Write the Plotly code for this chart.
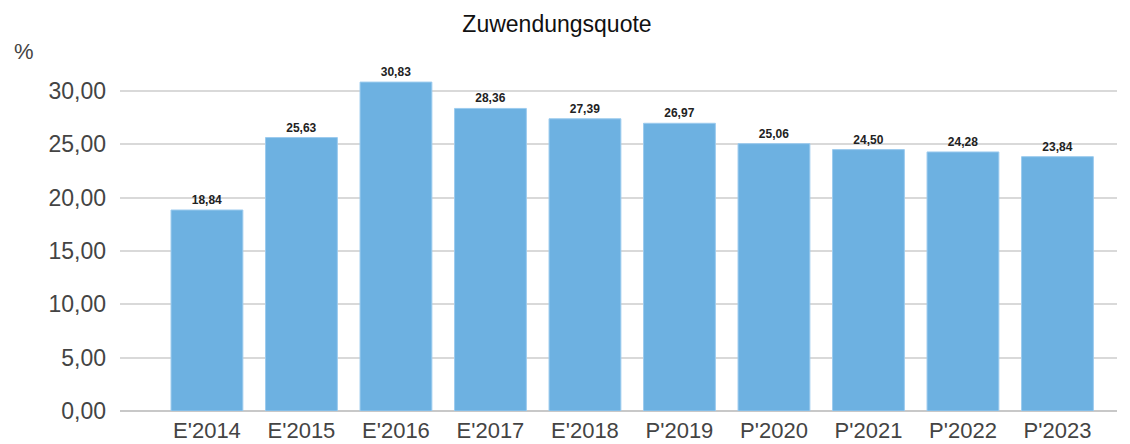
import plotly.graph_objects as go

categories = ["E'2014", "E'2015", "E'2016", "E'2017", "E'2018",
              "P'2019", "P'2020", "P'2021", "P'2022", "P'2023"]
values = [18.84, 25.63, 30.83, 28.36, 27.39, 26.97, 25.06, 24.50, 24.28, 23.84]
tick_vals = [0, 5, 10, 15, 20, 25, 30]

FONT = "Liberation Sans, Arial, sans-serif"

# the page body adds an 8px offset; the figure is sized/positioned to compensate
fig = go.Figure(go.Bar(
    x=categories, y=values,
    marker=dict(color="#6db1e1", line=dict(color="#9ccbee", width=1)),
    width=0.76,
    text=[f"{v:.2f}".replace(".", ",") for v in values],
    textposition="outside",
    textfont=dict(family=FONT, size=12, color="#222222", weight="bold"),
    cliponaxis=False,
))

fig.update_layout(
    width=1122, height=436,
    paper_bgcolor="white", plot_bgcolor="white",
    separators=",.",
    margin=dict(l=112, r=13, t=52, b=33, autoexpand=False),
    title=dict(text="Zuwendungsquote", x=0.4893, xanchor="center", y=0.9633, yanchor="middle",
               font=dict(family=FONT, size=23, color="#111111")),
    showlegend=False,
    xaxis=dict(range=[-0.92, 9.63], showgrid=False, showline=False, ticks="",
               automargin=False, ticklabelstandoff=4,
               tickfont=dict(family=FONT, size=22, color="#444444")),
    yaxis=dict(range=[0, 32.9], tickvals=tick_vals, tickformat=".2f",
               showgrid=True, gridcolor="#d9d9d9", gridwidth=1.5,
               zeroline=True, zerolinecolor="#c8c8c8", zerolinewidth=1.5,
               ticks="", ticklabelstandoff=13, automargin=False,
               tickfont=dict(family=FONT, size=23, color="#444444")),
    annotations=[dict(text="%", xref="paper", yref="paper", x=-0.108, y=1.0256,
                      xanchor="left", yanchor="middle", showarrow=False,
                      font=dict(family=FONT, size=22, color="#444444"))],
)

fig.write_html("out.html")
